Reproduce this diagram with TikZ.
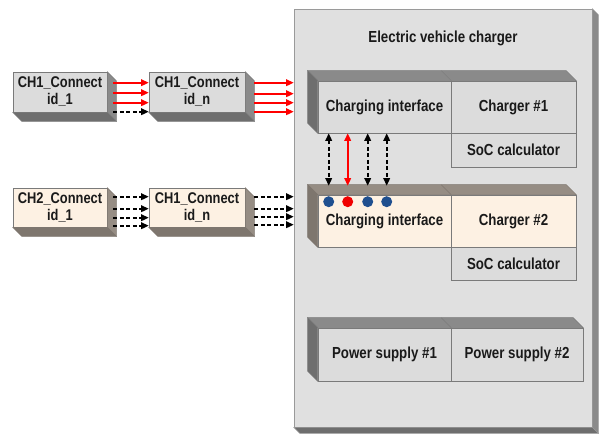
\documentclass[tikz,border=0pt]{standalone}
\usepackage{fontspec}
\setmainfont{Liberation Sans}
\newfontfamily\lblfont{Liberation Sans}[FakeStretch=0.83]
\usetikzlibrary{arrows.meta}
\definecolor{contfill}{HTML}{E0E0E0}
\definecolor{contedge}{HTML}{9A9A9A}
\definecolor{boxfill}{HTML}{DCDCDC}
\definecolor{boxedge}{HTML}{7A7A7A}
\definecolor{depthA}{HTML}{8A8A8A}
\definecolor{depthB}{HTML}{6E6E6E}
\definecolor{beige}{HTML}{FDF1E3}
\definecolor{beigeA}{HTML}{968D84}
\definecolor{beigeB}{HTML}{7E766E}
\definecolor{dotblue}{HTML}{1F4F8F}
\definecolor{dotred}{HTML}{F00000}
\definecolor{txt}{HTML}{1A1A1A}
\tikzset{
  lbl/.style={font=\lblfont\bfseries\fontsize{16}{18}\selectfont, text=txt},
  slbl/.style={font=\lblfont\bfseries\fontsize{15.5}{17}\selectfont, text=txt},
  face/.style={draw=boxedge, line width=0.6pt, fill=boxfill, rectangle, inner sep=0pt, lbl},
  bface/.style={face, fill=beige},
  dA/.style={fill=depthA, draw=boxedge, line width=0.5pt},
  dB/.style={fill=depthB, draw=boxedge, line width=0.5pt},
  bA/.style={fill=beigeA, draw=beigeB, line width=0.5pt},
  bB/.style={fill=beigeB, draw=beigeB, line width=0.5pt},
  redarr/.style={draw=red, line width=1.8pt, -{Triangle[length=7.5pt,width=6.5pt]}},
  blkarr/.style={draw=black, line width=1.8pt, dash pattern=on 4pt off 2.5pt, -{Triangle[length=7.5pt,width=6.5pt]}},
  vblk/.style={draw=black, line width=1.8pt, dash pattern=on 4pt off 2.5pt, {Triangle[length=7.5pt,width=6.5pt]}-{Triangle[length=7.5pt,width=6.5pt]}},
  vred/.style={draw=red, line width=1.8pt, {Triangle[length=7.5pt,width=6.5pt]}-{Triangle[length=7.5pt,width=6.5pt]}},
  dot/.style={circle, inner sep=0pt, minimum size=11pt, draw=none},
}
\begin{document}
\begin{tikzpicture}[x=1pt,y=-1pt]
\useasboundingbox[fill=white] (0,0) rectangle (599,434);

% ---- container ----
\node[draw=contedge, fill=contfill, line width=0.6pt, inner sep=0pt,
      minimum width=298pt, minimum height=418pt] (evc) at (443,218) {};
\filldraw[fill=depthA, draw=contedge, line width=0.5pt] (evc.north east) -- ++(6,6) -- ([shift={(6,6)}]evc.south east) -- (evc.south east) -- cycle;
\filldraw[fill=depthB, draw=contedge, line width=0.5pt] (evc.south west) -- ++(6,6) -- ([shift={(6,6)}]evc.south east) -- (evc.south east) -- cycle;
\node[lbl] (title) at (443,38) {Electric vehicle charger};

% ---- small boxes (depth down-right) ----
\node[face, slbl, minimum width=94pt, minimum height=40pt, align=center] (c1a) at (60,92) {CH1\_Connect\\id\_1};
\node[face, slbl, minimum width=96pt, minimum height=40pt, align=center] (c1b) at (197,92) {CH1\_Connect\\id\_n};
\node[bface, slbl, minimum width=94pt, minimum height=39pt, align=center] (c2a) at (60,207.5) {CH2\_Connect\\id\_1};
\node[bface, slbl, minimum width=96pt, minimum height=39pt, align=center] (c2b) at (197,207.5) {CH1\_Connect\\id\_n};
\foreach \n/\sa/\sb in {c1a/dA/dB, c1b/dA/dB, c2a/bA/bB, c2b/bA/bB}{
  \filldraw[\sa] (\n.north east) -- ++(9,9) -- ([shift={(9,9)}]\n.south east) -- (\n.south east) -- cycle;
  \filldraw[\sb] (\n.south west) -- ++(9,9) -- ([shift={(9,9)}]\n.south east) -- (\n.south east) -- cycle;
}

% ---- inner blocks (depth up-left) ----
\node[face, minimum width=133pt, minimum height=52pt] (ci1) at (384.5,107) {Charging interface};
\node[face, minimum width=125pt, minimum height=52pt] (ch1) at (513.5,107) {Charger \#1};
\node[face, minimum width=125pt, minimum height=34pt] (soc1) at (513.5,150) {SoC calculator};
\node[bface, minimum width=133pt, minimum height=52pt] (ci2) at (384.5,221) {};
\node[lbl] (ci2t) at (384.5,221) {Charging interface};
\node[bface, minimum width=125pt, minimum height=52pt] (ch2) at (513.5,221) {Charger \#2};
\node[face, minimum width=125pt, minimum height=33pt] (soc2) at (513.5,263.5) {SoC calculator};
\node[face, minimum width=133pt, minimum height=53pt] (ps1) at (384.5,354.5) {Power supply \#1};
\node[face, minimum width=132pt, minimum height=53pt] (ps2) at (517,354.5) {Power supply \#2};

\foreach \l/\r/\sa/\sb in {ci1/ch1/dA/dB, ci2/ch2/bA/bB, ps1/ps2/dA/dB}{
  \filldraw[\sa] (\l.north west) -- ++(-10,-10) -- ([shift={(-10,-10)}]\r.north east) -- (\r.north east) -- cycle;
  \draw[\sb, fill=none] (\l.north east) -- ++(-10,-10);
  \filldraw[\sb] (\l.north west) -- ++(-10,-10) -- ([shift={(-10,-10)}]\l.south west) -- (\l.south west) -- cycle;
}

% ---- horizontal arrows row 1 ----
\draw[redarr] ([shift={(6,11)}]c1a.north east) coordinate (a1) -- (a1 -| c1b.west);
\draw[redarr] ([shift={(6,21)}]c1a.north east) coordinate (a2) -- (a2 -| c1b.west);
\draw[redarr] ([shift={(6,31)}]c1a.north east) coordinate (a3) -- (a3 -| c1b.west);
\draw[blkarr] ([shift={(6,40)}]c1a.north east) coordinate (a4) -- (a4 -| c1b.west);
\draw[redarr] ([shift={(9,11)}]c1b.north east) coordinate (b1) -- (b1 -| evc.west);
\draw[redarr] ([shift={(9,22)}]c1b.north east) coordinate (b2) -- (b2 -| evc.west);
\draw[redarr] ([shift={(9,31)}]c1b.north east) coordinate (b3) -- (b3 -| evc.west);
\draw[redarr] ([shift={(9,40)}]c1b.north east) coordinate (b4) -- (b4 -| evc.west);

% ---- horizontal arrows row 2 ----
\draw[blkarr] ([shift={(6,9)}]c2a.north east) coordinate (d1) -- (d1 -| c2b.west);
\draw[blkarr] ([shift={(6,21)}]c2a.north east) coordinate (d2) -- (d2 -| c2b.west);
\draw[blkarr] ([shift={(6,30)}]c2a.north east) coordinate (d3) -- (d3 -| c2b.west);
\draw[blkarr] ([shift={(6,38)}]c2a.north east) coordinate (d4) -- (d4 -| c2b.west);
\draw[blkarr] ([shift={(9,9)}]c2b.north east) coordinate (e1) -- (e1 -| evc.west);
\draw[blkarr] ([shift={(9,21)}]c2b.north east) coordinate (e2) -- (e2 -| evc.west);
\draw[blkarr] ([shift={(9,29)}]c2b.north east) coordinate (e3) -- (e3 -| evc.west);
\draw[blkarr] ([shift={(9,37)}]c2b.north east) coordinate (e4) -- (e4 -| evc.west);

% ---- vertical arrows and dots ----
\draw[vblk] ([xshift=11pt]ci1.south west) -- ([xshift=11pt,yshift=9pt]ci2.north west);
\draw[vred] ([xshift=30pt]ci1.south west) -- ([xshift=30pt,yshift=9pt]ci2.north west);
\draw[vblk] ([xshift=50pt]ci1.south west) -- ([xshift=50pt,yshift=9pt]ci2.north west);
\draw[vblk] ([xshift=69pt]ci1.south west) -- ([xshift=69pt,yshift=9pt]ci2.north west);
\node[dot, fill=dotblue] (p1) at ([xshift=11pt,yshift=-7pt]ci2.north west) {};
\node[dot, fill=dotred]  (p2) at ([xshift=30pt,yshift=-7pt]ci2.north west) {};
\node[dot, fill=dotblue] (p3) at ([xshift=50pt,yshift=-7pt]ci2.north west) {};
\node[dot, fill=dotblue] (p4) at ([xshift=69pt,yshift=-7pt]ci2.north west) {};
\end{tikzpicture}
\end{document}
